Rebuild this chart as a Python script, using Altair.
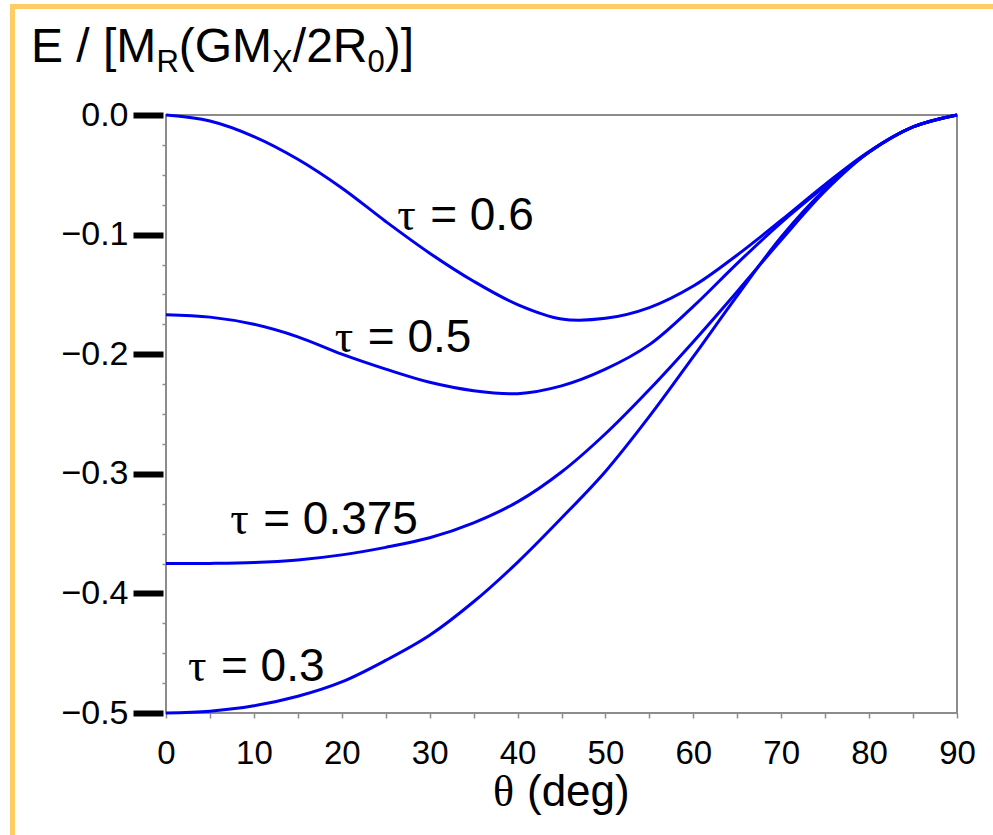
import altair as alt
import pandas as pd

# ---- data ----
theta = [0, 5, 10, 15, 20, 25, 30, 35, 40, 45, 50, 55, 60, 65, 70, 75, 80, 85, 90]
e_tau_060 = [0.0, -0.005, -0.018, -0.037, -0.061, -0.089, -0.1155, -0.139, -0.1585, -0.1705,
             -0.170, -0.161, -0.143, -0.117, -0.088, -0.058, -0.0305, -0.010, 0.0]
e_tau_050 = [-0.167, -0.169, -0.175, -0.1855, -0.200, -0.2125, -0.2235, -0.2305, -0.233, -0.2265,
             -0.2125, -0.192, -0.160, -0.124, -0.090, -0.0595, -0.031, -0.010, 0.0]
e_tau_0375 = [-0.375, -0.3749, -0.3742, -0.372, -0.3678, -0.3615, -0.3535, -0.341, -0.3235, -0.2985,
              -0.2665, -0.2295, -0.1895, -0.1475, -0.1045, -0.0635, -0.031, -0.010, 0.0]
e_tau_030 = [-0.500, -0.4985, -0.494, -0.486, -0.474, -0.456, -0.435, -0.407, -0.374, -0.337,
             -0.298, -0.252, -0.202, -0.151, -0.102, -0.062, -0.031, -0.010, 0.0]
tau_names = ["0.6", "0.5", "0.375", "0.3"]
series = [e_tau_060, e_tau_050, e_tau_0375, e_tau_030]

# curve label anchors (theta, E) in data units
label_theta = [26.3, 19.2, 7.3, 2.5]
label_e = [-0.0962, -0.198, -0.350, -0.473]

y_major = [0.0, -0.1, -0.2, -0.3, -0.4, -0.5]
y_minor = [-0.025, -0.05, -0.075, -0.125, -0.15, -0.175, -0.225, -0.25, -0.275,
           -0.325, -0.35, -0.375, -0.425, -0.45, -0.475]
x_ticks = list(range(0, 91, 5))

rows = []
for name, vals in zip(tau_names, series):
    for t, e in zip(theta, vals):
        rows.append({"tau": name, "theta": t, "E": e})
df = pd.DataFrame(rows)
lab = pd.DataFrame({"tau": tau_names, "theta": label_theta, "E": label_e})
lab["rest"] = "= " + lab["tau"]

SANS = "Liberation Sans"
SERIF = "Liberation Serif"
BLUE = "#0000ee"
GRAY = "#8c8c8c"
OL = 166  # plot left in page px
OT = 115  # plot top in page px

xs = alt.Scale(domain=[0, 90], nice=False, zero=False)
ys = alt.Scale(domain=[-0.5, 0], nice=False, zero=False)

x_axis = alt.Axis(
    values=x_ticks, labelExpr="datum.value % 10 === 0 ? datum.label : ''",
    tickSize=5, tickColor=GRAY, tickWidth=1.5, domain=False, grid=False,
    labelFont=SANS, labelFontSize=33, labelColor="black", labelPadding=19,
    labelFlush=False, labelOverlap=False, title=None)

lines = alt.Chart(df).mark_line(color=BLUE, strokeWidth=3, interpolate="catmull-rom").encode(
    x=alt.X("theta:Q", scale=xs, axis=x_axis),
    y=alt.Y("E:Q", scale=ys, axis=alt.Axis(
        values=y_major, orient="left",
        labelExpr="datum.value === 0 ? '0.0' : '\u2212' + format(abs(datum.value), '.1f')",
        tickSize=30, tickWidth=6, tickColor="black", offset=3, domain=False, grid=False,
        labelFont=SANS, labelFontSize=34, labelColor="black", labelPadding=5,
        labelFlush=False, labelOverlap=False, title=None)),
    detail="tau:N",
)

minor = alt.Chart(df).mark_point(opacity=0).encode(
    y=alt.Y("E:Q", scale=ys, axis=alt.Axis(
        values=y_minor, orient="left", labels=False, tickSize=4, tickColor=GRAY,
        tickWidth=1.5, domain=False, grid=False, title=None)),
)

tau_sym = alt.Chart(lab).mark_text(
    text="τ", font=SERIF, fontSize=46, align="left", baseline="alphabetic", color="black"
).encode(x=alt.X("theta:Q", scale=xs, axis=x_axis), y=alt.Y("E:Q", scale=ys, axis=None))

tau_rest = alt.Chart(lab).mark_text(
    font=SANS, fontSize=46, align="left", baseline="alphabetic", color="black", dx=33
).encode(x=alt.X("theta:Q", scale=xs, axis=x_axis), y=alt.Y("E:Q", scale=ys, axis=None),
         text="rest:N")

one = pd.DataFrame({"k": [0]})
texts = []
# y-axis title: E / [M_R(GM_X/2R_0)]
title_parts = [
    ("E / [M", 48, 31, 62), ("R", 31, 156.4, 72), ("(GM", 48, 178.8, 62),
    ("X", 31, 272.1, 72), ("/2R", 48, 292.8, 62), ("0", 31, 367.5, 72), (")]", 48, 384.7, 62),
]
for txt, fs, xa, ya in title_parts:
    texts.append(alt.Chart(one).mark_text(
        text=txt, font=SANS, fontSize=fs, align="left", baseline="alphabetic", color="black"
    ).encode(x=alt.value(xa - OL), y=alt.value(ya - OT)))
# x-axis title
texts.append(alt.Chart(one).mark_text(
    text="θ", font=SERIF, fontSize=44, align="left", baseline="alphabetic", color="black"
).encode(x=alt.value(493 - OL), y=alt.value(806 - OT)))
texts.append(alt.Chart(one).mark_text(
    text="(deg)", font=SANS, fontSize=44, align="left", baseline="alphabetic", color="black"
).encode(x=alt.value(527 - OL), y=alt.value(806 - OT)))

ORANGE = "#ffcc66"
border_left = alt.Chart(one).mark_rule(color=ORANGE, strokeWidth=5).encode(
    x=alt.value(12.5 - OL), y=alt.value(4 - OT), y2=alt.value(835 - OT))
border_top = alt.Chart(one).mark_rule(color=ORANGE, strokeWidth=5).encode(
    x=alt.value(10 - OL), x2=alt.value(993 - OL), y=alt.value(6.5 - OT))

chart = alt.layer(
    border_left, border_top, minor, lines, tau_sym, tau_rest, *texts
).resolve_axis(y="independent").properties(
    width=791, height=598,
    autosize=alt.AutoSizeParams(type="none"),
    padding={"left": OL, "top": OT, "right": 993 - OL - 791, "bottom": 835 - OT - 598},
    background="white",
).configure_view(stroke=GRAY, strokeWidth=2)

chart.save("out.html", embed_options={"renderer": "svg", "actions": False})
